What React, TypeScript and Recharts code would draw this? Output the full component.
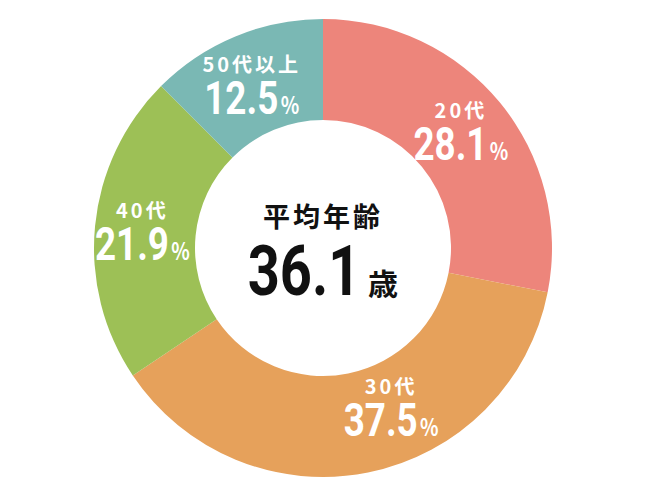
import React from "react";
import { PieChart, Pie, Cell } from "recharts";

const categories = ["20代", "30代", "40代", "50代以上"];
const shares = [28.1, 37.5, 21.9, 12.5];
const centerTitle = "平均年齢";
const averageAge = "36.1";
const ageUnit = "歳";

const COLORS = ["#ED857B", "#E6A15B", "#9DC056", "#7AB8B4"];
const NUDGE: Record<string, [number, number]> = {
  "20代": [0, 0],
  "30代": [33, -12],
  "40代": [-3, 4],
  "50代以上": [-3, 6],
};

const data = categories.map((name, i) => ({ name, value: shares[i] }));

const NUM = 'Roboto, "Liberation Sans", sans-serif';
const CJK = '"Noto Sans CJK JP", "Noto Sans", sans-serif';

const RAD = Math.PI / 180;

const renderLabel = (props: any) => {
  const { cx, cy, midAngle, innerRadius, outerRadius, index } = props;
  const r = (innerRadius + outerRadius) / 2;
  const name = categories[index];
  const [nx, ny] = NUDGE[name] || [0, 0];
  const x = cx + r * Math.cos(-midAngle * RAD) + nx;
  const y = cy + r * Math.sin(-midAngle * RAD) + ny;
  return (
    <g key={`lbl-${index}`}>
      <text
        x={x}
        y={y - 17}
        textAnchor="middle"
        fill="#fff"
        fontFamily={CJK}
        fontWeight={700}
        fontSize={20}
        letterSpacing={3}
      >
        {name}
      </text>
      <text transform={`translate(${x} ${y + 25}) scale(0.8 1)`} textAnchor="middle" fill="#fff">
        <tspan fontFamily={NUM} fontWeight={700} fontSize={46}>
          {shares[index].toFixed(1)}
        </tspan>
        <tspan fontFamily={CJK} fontWeight={700} fontSize={24} dx={3}>
          %
        </tspan>
      </text>
    </g>
  );
};

export default function App() {
  return (
    <div style={{ position: "absolute", left: 0, top: 0, width: 650, height: 500, background: "#fff" }}>
      <PieChart width={650} height={500} margin={{ top: 0, right: 0, bottom: 0, left: 0 }}>
        <Pie
          data={data}
          dataKey="value"
          nameKey="name"
          cx={323}
          cy={248}
          innerRadius={128}
          outerRadius={229}
          startAngle={90}
          endAngle={-270}
          stroke="none"
          label={renderLabel}
          labelLine={false}
          isAnimationActive={false}
        >
          {data.map((d, i) => (
            <Cell key={d.name} fill={COLORS[i]} />
          ))}
        </Pie>
        <text
          x={323}
          y={227}
          textAnchor="middle"
          fill="#111"
          fontFamily={CJK}
          fontWeight={700}
          fontSize={27}
          letterSpacing={3}
        >
          {centerTitle}
        </text>
        <text transform="translate(304 295) scale(0.8 1)" textAnchor="middle" fill="#111">
          <tspan fontFamily={NUM} fontWeight={700} fontSize={70}>
            {averageAge}
          </tspan>
        </text>
        <text x={368} y={295} textAnchor="start" fill="#111" fontFamily={CJK} fontWeight={700} fontSize={30}>
          {ageUnit}
        </text>
      </PieChart>
    </div>
  );
}
